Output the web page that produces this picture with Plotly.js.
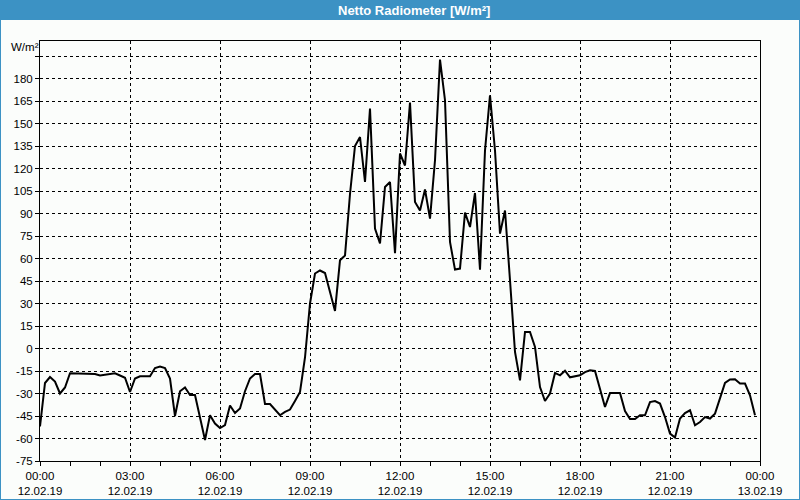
<!DOCTYPE html>
<html>
<head>
<meta charset="utf-8">
<script src="https://cdn.plot.ly/plotly-3.0.1.min.js"></script>
<style>
  html, body { margin: 0; padding: 0; background: #fbfdfb; }
  #chart { width: 800px; height: 500px; }
</style>
</head>
<body>
<div id="chart"></div>
<script>
// 10-minute samples from 12.02.19 00:00 to 23:50
const startTime = "2019-02-12T00:00:00";
const stepMinutes = 10;
const netRadiation = [
  -52, -23, -19, -22, -30, -26, -16.5, -16.5, -16.5, -17,
  -17, -17, -18, -17.5, -17, -16.5, -18, -19.5, -29, -20,
  -18.5, -18.5, -18.5, -13, -12, -13, -20, -45, -28.5, -26,
  -31, -31, -45, -61, -44.5, -50, -53, -51, -38, -43,
  -40, -28.5, -20, -17, -17, -37, -37, -41, -44.5, -42.3,
  -40.7, -35, -29, -6, 30, 50, 52, 50.3, 36.6, 25,
  58.8, 62, 103, 135, 141, 111, 160, 80, 70, 107.7,
  111, 63.5, 130, 122, 164, 97.7, 92, 106, 86.6, 125.5,
  192.6, 165.5, 71, 52.6, 53.3, 90.6, 81, 103.7, 52.6, 132,
  168.8, 132, 76.6, 92, 45.5, -2.3, -21.2, 11, 11, 1,
  -25.7, -35, -30, -16.3, -17.9, -14.8, -19.2, -18.5, -17.9, -15.7,
  -14.5, -15, -26.7, -39, -29.7, -29.7, -29.7, -41.7, -47, -47,
  -44.5, -44.5, -35.7, -35, -36.7, -45.7, -56.7, -59.4, -46.7, -43,
  -41.2, -51.2, -49, -45.7, -46.7, -43.4, -33.4, -23, -20.7, -20.5,
  -23.4, -23.4, -31.2, -44.5
];

const tickTimesVals = ["2019-02-12 00:00","2019-02-12 03:00","2019-02-12 06:00","2019-02-12 09:00",
  "2019-02-12 12:00","2019-02-12 15:00","2019-02-12 18:00","2019-02-12 21:00","2019-02-13 00:00"];
const tickTimes = ["00:00","03:00","06:00","09:00","12:00","15:00","18:00","21:00","00:00"];
const tickDates = ["12.02.19","12.02.19","12.02.19","12.02.19","12.02.19","12.02.19","12.02.19","12.02.19","13.02.19"];

const yTickVals = [-75,-60,-45,-30,-15,0,15,30,45,60,75,90,105,120,135,150,165,180,195];
const yTickText = ["-75","-60","-45","-30","-15","0","15","30","45","60","75","90","105","120","135","150","165","180",""];

const titleText = "Netto Radiometer [W/m²]";
const unitText = "W/m²";

function pad(n){ return (n<10?"0":"")+n; }
const t0 = new Date(startTime + "Z").getTime();
const times = netRadiation.map((v,i) => {
  const d = new Date(t0 + i*stepMinutes*60000);
  return d.getUTCFullYear()+"-"+pad(d.getUTCMonth()+1)+"-"+pad(d.getUTCDate())+" "+pad(d.getUTCHours())+":"+pad(d.getUTCMinutes());
});

const W = 800, H = 500, L = 40, R = 40, T = 41, B = 39;
const pw = W - L - R, ph = H - T - B;
const blue = "#3c92c4";
const font = "Liberation Sans, Arial, sans-serif";

const trace = {
  x: times, y: netRadiation, type: "scatter", mode: "lines",
  line: { color: "#000000", width: 2 }, hoverinfo: "skip"
};

const layout = {
  width: W, height: H,
  margin: { l: L, r: R, t: T, b: B, pad: 0 },
  paper_bgcolor: "#fbfdfb", plot_bgcolor: "#fbfdfb",
  showlegend: false,
  font: { family: font, size: 11.5, color: "#000000" },
  xaxis: {
    type: "date",
    range: ["2019-02-12 00:00", "2019-02-13 00:00"],
    tickmode: "array",
    tickvals: tickTimesVals,
    ticktext: tickTimes.map((t,i) => t + "<br>" + tickDates[i]),
    ticks: "outside", ticklen: 4, tickcolor: "#000", tickwidth: 1,
    showgrid: true, gridcolor: "#000", gridwidth: 1, griddash: "3px,3px",
    showline: true, linecolor: "#000", linewidth: 1, mirror: true,
    zeroline: false,
    minor: { dtick: 3600000, ticks: "outside", ticklen: 4, tickcolor: "#000", showgrid: false },
    tickfont: { family: font, size: 11.5, color: "#000" },
    fixedrange: true
  },
  yaxis: {
    range: [-75, 205],
    tickmode: "array",
    tickvals: yTickVals,
    ticktext: yTickText,
    ticks: "outside", ticklen: 4, tickcolor: "#000", tickwidth: 1,
    showgrid: true, gridcolor: "#000", gridwidth: 1, griddash: "3px,3px",
    showline: true, linecolor: "#000", linewidth: 1, mirror: true,
    zeroline: false,
    tickfont: { family: font, size: 11.5, color: "#000" },
    fixedrange: true
  },
  shapes: [
    { type: "rect", xref: "paper", yref: "paper",
      x0: -L/pw, x1: 1 + R/pw, y0: 1 + (T-20)/ph, y1: 1 + T/ph,
      fillcolor: blue, line: { width: 0 }, layer: "above" },
    { type: "rect", xref: "paper", yref: "paper",
      x0: -L/pw, x1: 1 + R/pw, y0: -B/ph, y1: 1 + T/ph,
      fillcolor: "rgba(0,0,0,0)", line: { color: blue, width: 2 }, layer: "above" }
  ],
  annotations: [
    { text: "<b>" + titleText + "</b>", xref: "paper", yref: "paper",
      x: (414 - L)/pw, y: 1 + (T-10.5)/ph, xanchor: "center", yanchor: "middle",
      showarrow: false, font: { family: font, size: 13, color: "#ffffff" } },
    { text: unitText, xref: "paper", yref: "paper",
      x: (9 - L)/pw, y: 1 + (T-47)/ph, xanchor: "left", yanchor: "middle",
      showarrow: false, font: { family: font, size: 11.5, color: "#000" } }
  ]
};

Plotly.newPlot("chart", [trace], layout, { displayModeBar: false, staticPlot: true });
</script>
</body>
</html>
